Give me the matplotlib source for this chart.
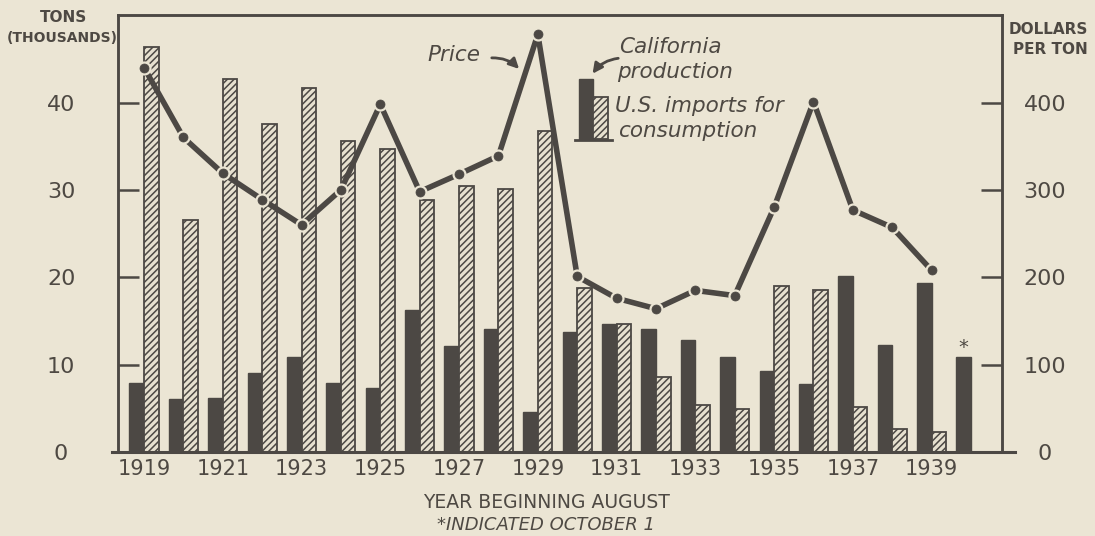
import matplotlib
matplotlib.use("Agg")
import matplotlib.pyplot as plt
from matplotlib.patches import Rectangle, FancyArrowPatch

years = list(range(1919, 1941))
california = [7.9, 6.1, 6.2, 9.0, 10.9, 7.9, 7.3, 16.2, 12.1, 14.1, 4.6, 13.7,
              14.7, 14.1, 12.8, 10.9, 9.3, 7.8, 20.2, 12.2, 19.3, 10.9]
imports = [46.4, 26.5, 42.7, 37.5, 41.7, 35.6, 34.7, 28.8, 30.4, 30.1, 36.7, 18.8,
           14.7, 8.6, 5.4, 4.9, 19.0, 18.5, 5.1, 2.6, 2.3]
price_years = list(range(1919, 1940))
price = [440, 360, 319, 289, 260, 300, 398, 298, 318, 339, 478, 201,
         176, 164, 185, 179, 280, 401, 277, 257, 208]
left_ticks = [0, 10, 20, 30, 40]
right_ticks = [0, 100, 200, 300, 400]
year_ticks = list(range(1919, 1940, 2))

BG = "#ebe5d4"
DARK = "#4c4844"
TXT = "#4e4943"
HATCHFILL = "#e6e0cf"

plt.rcParams['hatch.linewidth'] = 1.1
plt.rcParams['hatch.color'] = DARK

fig = plt.figure(figsize=(10.95, 5.36), dpi=100, facecolor=BG)
ax = fig.add_axes([0.1078, 0.1567, 0.807, 0.815])
ax.set_facecolor(BG)
ax2 = ax.twinx()

bw = 0.37
ax.bar(years, california, width=-bw, align='edge', color=DARK, edgecolor=DARK,
       linewidth=1.0, zorder=2)
ax.bar(years[:len(imports)], imports, width=bw, align='edge', color=HATCHFILL,
       edgecolor=DARK, linewidth=1.3, hatch='/////', zorder=2)

ax.set_xlim(1918.34, 1940.78)
ax.set_ylim(0, 50)
ax2.set_ylim(0, 500)

# price line with gaps around the dots
ax2.plot(price_years, price, color=DARK, lw=4.0, solid_capstyle='butt', zorder=3)
ax2.plot(price_years, price, 'o', ms=7, color=DARK, mec=BG, mew=3.2, zorder=4)
ax2.plot(price_years, price, 'o', ms=6.5, color=DARK, mec=DARK, mew=0.5, zorder=5)

for a in (ax, ax2):
    for s in a.spines.values():
        s.set_color(DARK)
        s.set_linewidth(1.8)

# bottom axis line overhanging the frame slightly
ax.plot([-0.007, 1.015], [0, 0], transform=ax.transAxes, color=DARK, lw=2.2,
        clip_on=False, zorder=6)

ax.set_yticks(left_ticks)
ax.set_yticklabels([str(v) for v in left_ticks])
ax.tick_params(axis='y', direction='in', length=15, width=1.8, color=DARK,
               labelsize=16, labelcolor=TXT, pad=41)
for lab in ax.get_yticklabels():
    lab.set_ha('center')

ax2.set_yticks(right_ticks)
ax2.set_yticklabels([str(v) for v in right_ticks])
ax2.tick_params(axis='y', direction='in', length=15, width=1.8, color=DARK,
                labelsize=16, labelcolor=TXT, pad=31)
for lab in ax2.get_yticklabels():
    lab.set_ha('center')

ax.set_xticks(year_ticks)
ax.set_xticklabels([str(y) for y in year_ticks])
ax.tick_params(axis='x', length=0, labelsize=15, labelcolor=TXT, pad=5)

# axis titles
fig.text(63 / 1095, 1 - 18 / 536, "TONS", ha='center', va='center',
         fontsize=11, fontweight='bold', color=TXT)
fig.text(62 / 1095, 1 - 38 / 536, "(THOUSANDS)", ha='center', va='center',
         fontsize=10, fontweight='bold', color=TXT)
fig.text(1048 / 1095, 1 - 30 / 536, "DOLLARS", ha='center', va='center',
         fontsize=11, fontweight='bold', color=TXT)
fig.text(1050 / 1095, 1 - 49 / 536, "PER TON", ha='center', va='center',
         fontsize=11, fontweight='bold', color=TXT)
fig.text(547 / 1095, 1 - 503 / 536, "YEAR BEGINNING AUGUST", ha='center', va='center',
         fontsize=13.5, color=TXT)
fig.text(546 / 1095, 1 - 525 / 536, "*INDICATED OCTOBER 1", ha='center', va='center',
         fontsize=13, style='italic', color=TXT)

# asterisk above 1940 bar
ax.annotate("*", xy=(1940 - bw / 2, california[-1]), xytext=(0, 0),
            textcoords='offset points', ha='center', va='bottom',
            fontsize=14, color=TXT)

# legend drawn in figure coordinates
def fx(px):
    return px / 1095

def fy(py):
    return 1 - py / 536

fig.patches.append(Rectangle((fx(579), fy(139)), fx(593) - fx(579), fy(79) - fy(139),
                             transform=fig.transFigure, facecolor=DARK,
                             edgecolor=DARK, lw=1.0, zorder=5))
fig.patches.append(Rectangle((fx(593), fy(139)), fx(608) - fx(593), fy(97) - fy(139),
                             transform=fig.transFigure, facecolor=HATCHFILL,
                             edgecolor=DARK, lw=1.3, hatch='/////', zorder=5))
fig.lines.append(plt.Line2D([fx(575), fx(612)], [fy(139.5), fy(139.5)],
                            transform=fig.transFigure, color=DARK, lw=2.0))

leg_kw = dict(ha='left', va='center', fontsize=15.5, style='italic', color=TXT)
fig.text(fx(619), fy(47), "California", **leg_kw)
fig.text(fx(617), fy(72), "production", **leg_kw)
fig.text(fx(615), fy(106), "U.S. imports for", **leg_kw)
fig.text(fx(618), fy(131), "consumption", **leg_kw)
fig.text(fx(427), fy(55), "Price", **leg_kw)

fig.patches.append(FancyArrowPatch((fx(489), fy(58)), (fx(521), fy(71)),
                                   transform=fig.transFigure,
                                   connectionstyle="arc3,rad=-0.25",
                                   arrowstyle="-|>,head_length=6,head_width=3",
                                   color=DARK, lw=2.0))
fig.patches.append(FancyArrowPatch((fx(621), fy(58)), (fx(591), fy(76)),
                                   transform=fig.transFigure,
                                   connectionstyle="arc3,rad=0.25",
                                   arrowstyle="-|>,head_length=6,head_width=3",
                                   color=DARK, lw=2.0))

fig.savefig("out.png", dpi=100, facecolor=BG)
